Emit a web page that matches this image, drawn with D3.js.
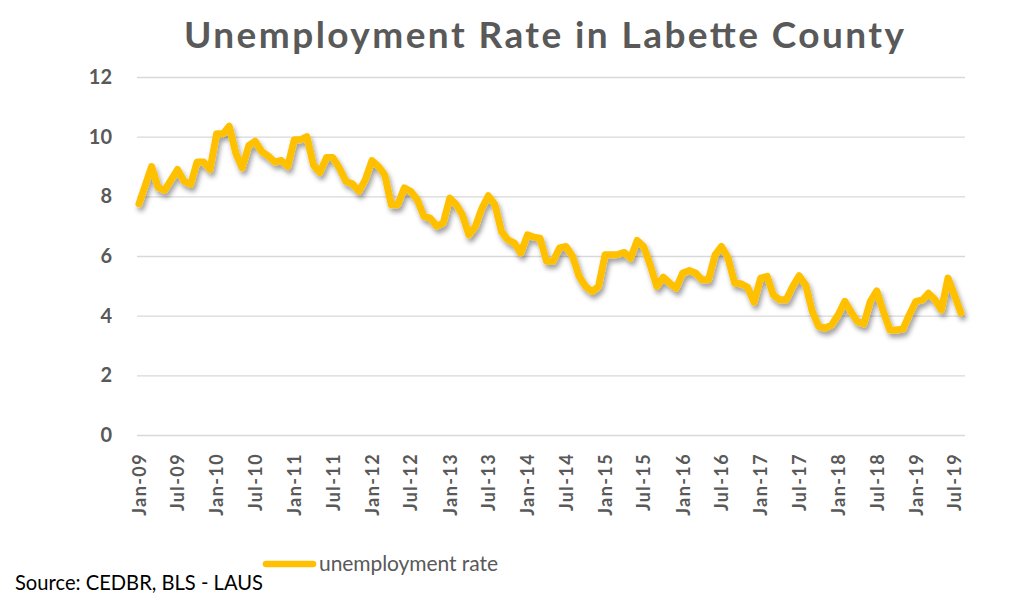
<!DOCTYPE html>
<html>
<head>
<meta charset="utf-8">
<script src="https://cdn.jsdelivr.net/npm/d3@7"></script>
<style>
  body { margin: 0; background: #fff; }
  svg { display: block; font-family: Lato, "Open Sans", sans-serif; }
</style>
</head>
<body>
<svg id="main_chart" width="1010" height="605"></svg>
<script>
// monthly unemployment rate, Labette County, Jan 2009 - Aug 2019
const startMonth = '2009-01';
const rate = [
  7.75, 8.4, 9.0, 8.3, 8.2, 8.55, 8.9, 8.5, 8.4, 9.15, 9.15, 8.9,
  10.1, 10.1, 10.35, 9.45, 8.95, 9.7, 9.85, 9.5, 9.35, 9.15, 9.2, 9.0,
  9.9, 9.9, 10.0, 9.05, 8.8, 9.3, 9.3, 8.95,
  8.5, 8.42, 8.17, 8.56, 9.2, 9.0, 8.72, 7.72, 7.72, 8.28, 8.17, 7.89,
  7.33, 7.27, 7.0, 7.1, 7.94, 7.72, 7.38, 6.71, 6.99, 7.6, 8.02, 7.72,
  6.82, 6.54, 6.43, 6.1, 6.71, 6.63, 6.6, 5.82, 5.82, 6.27, 6.32, 5.99,
  5.32, 4.98, 4.81, 4.98, 6.04, 6.04, 6.05, 6.12, 5.93, 6.52, 6.32, 5.7,
  4.98, 5.29, 5.09, 4.92, 5.43, 5.51, 5.43, 5.2, 5.2, 6.04, 6.32, 5.93,
  5.09, 5.07, 4.95, 4.45, 5.26, 5.32, 4.7, 4.53, 4.53, 4.98, 5.34, 5.03,
  4.14, 3.64, 3.58, 3.69, 4.03, 4.48, 4.14, 3.8, 3.72, 4.48, 4.83, 4.14,
  3.52, 3.52, 3.55, 4.03, 4.48, 4.53, 4.75, 4.53, 4.19, 5.26, 4.7, 4.09
];
const tickLabels = ['Jan-09', 'Jul-09', 'Jan-10', 'Jul-10', 'Jan-11', 'Jul-11', 'Jan-12',
  'Jul-12', 'Jan-13', 'Jul-13', 'Jan-14', 'Jul-14', 'Jan-15', 'Jul-15', 'Jan-16',
  'Jul-16', 'Jan-17', 'Jul-17', 'Jan-18', 'Jul-18', 'Jan-19', 'Jul-19'];
const yTicks = [0, 2, 4, 6, 8, 10, 12];

const svg = d3.select('#main_chart');
const grey = '#595959';
const lineColor = '#FFC000';

const parseMonth = d3.timeParse('%Y-%m');
const months = rate.map(function(d, i) {
  return d3.timeMonth.offset(parseMonth(startMonth), i);
});

const xScale = d3.scaleTime().domain([months[0], months[months.length - 1]]).range([139, 961]);
const yScale = d3.scaleLinear().domain([0, 12]).range([435, 77]);

// shadow under the line
const defs = svg.append('defs');
defs.append('filter').attr('id', 'shadow')
  .attr('x', '-5%').attr('y', '-20%').attr('width', '110%').attr('height', '140%')
  .append('feDropShadow')
  .attr('dx', 2).attr('dy', 4).attr('stdDeviation', 2.8)
  .attr('flood-color', '#000').attr('flood-opacity', 0.38);

// title
svg.append('text')
  .attr('x', 544).attr('y', 48)
  .attr('text-anchor', 'middle')
  .attr('font-size', 37).attr('font-weight', 'bold')
  .attr('fill', grey)
  .attr('textLength', 720).attr('lengthAdjust', 'spacing')
  .text('Unemployment Rate in Labette County');

// y axis with gridlines
const yAxis = d3.axisLeft(yScale).tickValues(yTicks).tickSize(-(965 - 137)).tickPadding(25);
const yg = svg.append('g').attr('transform', 'translate(137,0)').call(yAxis);
yg.select('.domain').remove();
yg.selectAll('line').attr('stroke', '#d9d9d9').attr('stroke-width', 1.3);
yg.selectAll('text')
  .attr('fill', grey).attr('font-size', 20).attr('font-weight', 'bold')
  .attr('font-family', 'Lato, sans-serif');

// x axis labels every six months
const tickMonths = tickLabels.map(function(d) { return d3.timeParse('%b-%y')(d); });
const xAxis = d3.axisBottom(xScale).tickValues(tickMonths).tickSize(0)
  .tickFormat(function(d, i) { return tickLabels[i]; });
const xg = svg.append('g').attr('transform', 'translate(0,435)').call(xAxis);
xg.select('.domain').remove();
xg.selectAll('text')
  .attr('fill', grey).attr('font-size', 18).attr('font-weight', 'bold')
  .attr('font-family', 'Lato, sans-serif')
  .attr('letter-spacing', 1.4)
  .attr('text-anchor', 'end')
  .attr('dy', '0.35em')
  .attr('transform', 'translate(0,18) rotate(-90)')
  .attr('x', 0).attr('y', 0);

// the line
const line = d3.line()
  .x(function(d, i) { return xScale(months[i]); })
  .y(function(d) { return yScale(d); });
svg.append('path')
  .datum(rate)
  .attr('d', line)
  .attr('fill', 'none')
  .attr('stroke', lineColor)
  .attr('stroke-width', 7)
  .attr('stroke-linejoin', 'round')
  .attr('stroke-linecap', 'round')
  .attr('filter', 'url(#shadow)');

// legend
svg.append('line')
  .attr('x1', 266).attr('x2', 313).attr('y1', 564).attr('y2', 564)
  .attr('stroke', lineColor).attr('stroke-width', 6.5).attr('stroke-linecap', 'round');
svg.append('text')
  .attr('x', 319).attr('y', 571)
  .attr('font-size', 21).attr('fill', grey)
  .attr('textLength', 179).attr('lengthAdjust', 'spacing')
  .text('unemployment rate');

// source note
svg.append('text')
  .attr('x', 15).attr('y', 590)
  .attr('font-size', 22).attr('fill', '#000')
  .attr('textLength', 248).attr('lengthAdjust', 'spacingAndGlyphs')
  .text('Source: CEDBR, BLS - LAUS');
</script>
</body>
</html>
